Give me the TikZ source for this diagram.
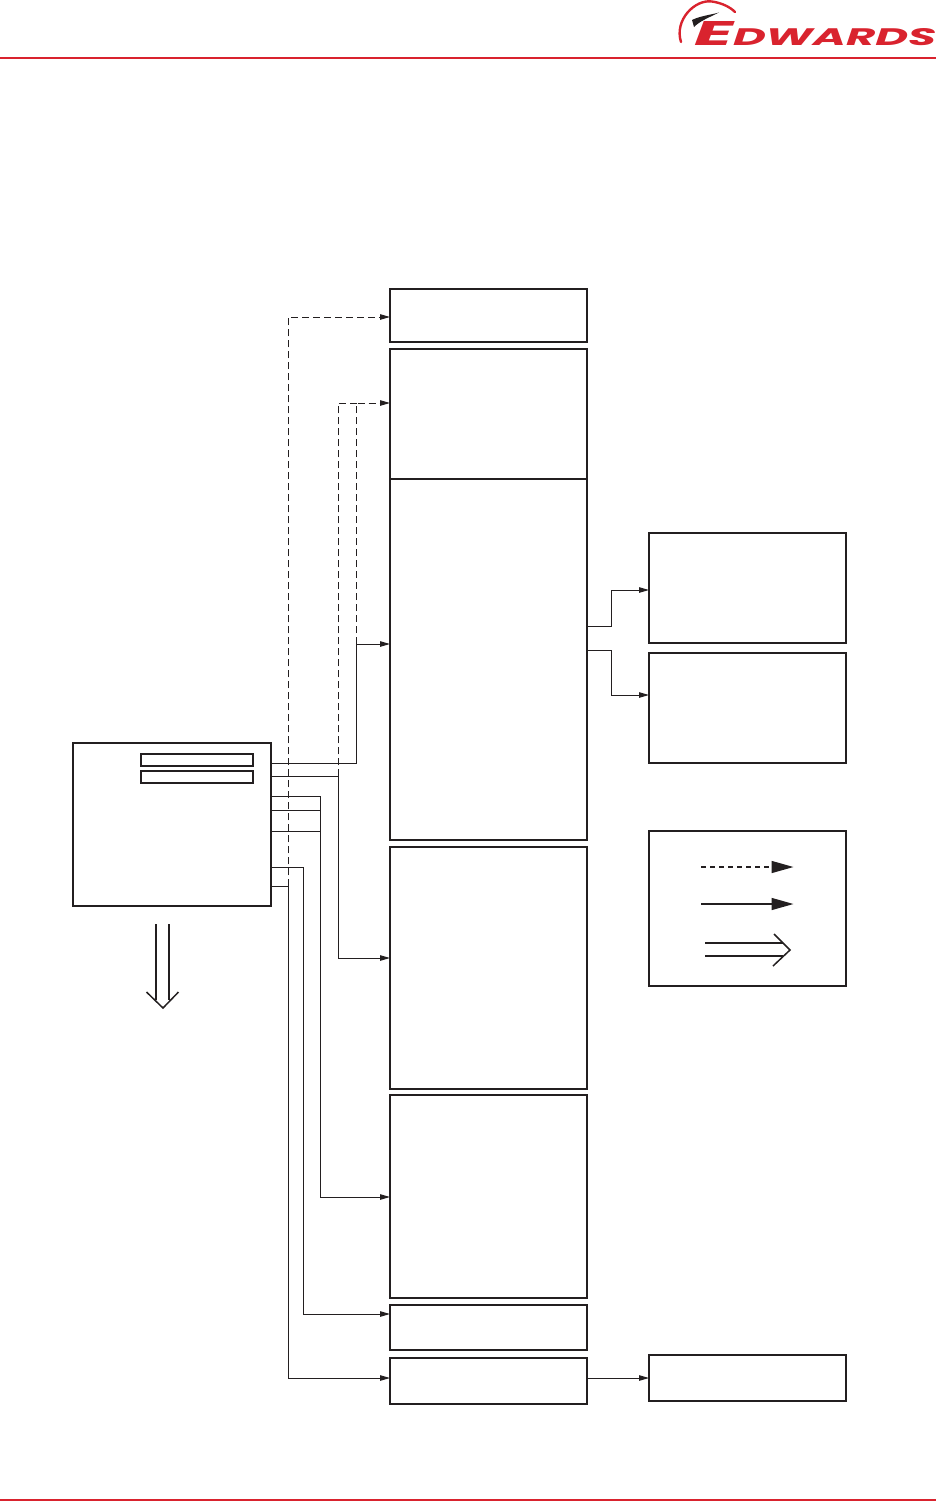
\documentclass[tikz,border=0pt]{standalone}
\usepackage{graphicx}
\usepackage{fontspec}
\setmainfont{Poppins}
\usetikzlibrary{arrows.meta}
\definecolor{ink}{HTML}{231F20}
\definecolor{brand}{HTML}{D9232E}
\tikzset{
  box/.style={draw=ink,line width=2pt,inner sep=0pt,outer sep=0pt},
  conn/.style={draw=ink,line width=1pt,-{Triangle[length=10pt,width=5.5pt]}},
  plain/.style={draw=ink,line width=1pt},
  dashconn/.style={conn,dash pattern=on 7pt off 4pt},
  dashplain/.style={plain,dash pattern=on 7pt off 4pt},
  legend/.style={draw=ink,line width=1.5pt,-{Triangle[length=22pt,width=12pt]}},
  chevron/.style={draw=ink,line width=1.5pt},
  rule/.style={draw=brand,line width=2pt},
  logo/.style={inner sep=0pt,outer sep=0pt,text=brand,font=\bfseries\itshape}
}
\newcommand{\bx}[5]{\node[box,minimum width={(#4-#2)*1pt},minimum height={(#5-#3)*1pt}] (#1) at ({(#2+#4)/2},{(#3+#5)/2}) {};}
\begin{document}
\begin{tikzpicture}[x=1pt,y=-1pt]
\useasboundingbox (0,0) rectangle (936,1502);
% header and footer
\draw[rule] (0,57.5) -- (936,57.5);
\draw[rule] (0,1500) -- (936,1500);
% logo
\draw[brand,line width=2.4pt,line cap=round] (681,42) .. controls (674,20) and (695,-1) .. (712,1.5) .. controls (722,3) and (730,7) .. (735,12);
\fill[ink] (692,20) .. controls (700,16) and (710,15) .. (719,12.5) .. controls (708,18) and (700,21) .. (694,27) -- cycle;
\node[logo,anchor=south west] (logoE) at (694,45.5) {\resizebox{39pt}{24pt}{E}};
\node[logo,anchor=south west] (logoT) at (733,45.5) {\resizebox{203pt}{17pt}{DWARDS}};
% left box
\bx{lb}{73}{743}{271}{906}
\bx{la}{141}{754}{253}{766}
\bx{lc}{141}{771}{253}{783}
% centre column
\bx{c1}{390}{289}{587}{342}
\bx{c2}{390}{348.6}{587}{479}
\bx{c3}{390}{479}{587}{840}
\bx{c4}{390}{847}{587}{1089}
\bx{c5}{390}{1095}{587}{1298}
\bx{c6}{390}{1305}{587}{1350}
\bx{c7}{390}{1358}{587}{1404}
% right column
\bx{r1}{649}{533}{846}{643}
\bx{r2}{649}{653}{846}{763}
\bx{r3}{649}{831}{846}{986}
\bx{r4}{649}{1355}{846}{1401}
% solid connectors
\draw[conn] (lb.east |- 0,763.4) -| (356.7,644) -- (c3.west |- 0,644);
\draw[conn] (lb.east |- 0,776.3) -| (338.7,958) -- (c4.west |- 0,958);
\draw[plain] (lb.east |- 0,796.7) -| (320.7,831.3);
\draw[plain] (lb.east |- 0,810.3) -- (320.7,810.3);
\draw[conn] (lb.east |- 0,831.3) -| (320.7,1197) -- (c5.west |- 0,1197);
\draw[conn] (lb.east |- 0,867.3) -| (303.3,1314) -- (c6.west |- 0,1314);
\draw[conn] (lb.east |- 0,886.3) -| (288.5,1378) -- (c7.west |- 0,1378);
\draw[conn] (c3.east |- 0,626) -| (611,590) -- (r1.west |- 0,590);
\draw[conn] (c3.east |- 0,650) -| (611,695) -- (r2.west |- 0,695);
\draw[conn] (c7.east |- 0,1378) -- (r4.west |- 0,1378);
% dashed connectors
\draw[dashconn] (288.5,886.3) -- (288.5,317) -- (c1.west |- 0,317);
\draw[dashplain] (338.7,776.3) -- (338.7,403) -- (356.7,403);
\draw[dashconn] (356.7,644) -- (356.7,403) -- (c2.west |- 0,403);
% legend
\coordinate (k1a) at (701,867);
\coordinate (k1b) at (793.5,867);
\coordinate (k2a) at (701,904);
\coordinate (k2b) at (793.5,904);
\draw[legend,dash pattern=on 5pt off 4pt] (k1a) -- (k1b);
\draw[legend] (k2a) -- (k2b);
\coordinate (k3a) at (705,943);
\coordinate (k3b) at (783,943);
\coordinate (k3c) at (705,956);
\coordinate (k3d) at (783,956);
\coordinate (k3t) at (790,950);
\draw[chevron] (k3a) -- (k3b);
\draw[chevron] (k3c) -- (k3d);
\draw[chevron] (774,934) -- (k3t) -- (773,966);
% down double arrow
\coordinate (d1) at (156,924);
\coordinate (d2) at (156,1000);
\coordinate (d3) at (169,924);
\coordinate (d4) at (169,1000);
\coordinate (dt) at (163,1008);
\draw[chevron] (d1) -- (d2);
\draw[chevron] (d3) -- (d4);
\draw[chevron] (146.5,992) -- (dt) -- (178.5,992);
\end{tikzpicture}
\end{document}
